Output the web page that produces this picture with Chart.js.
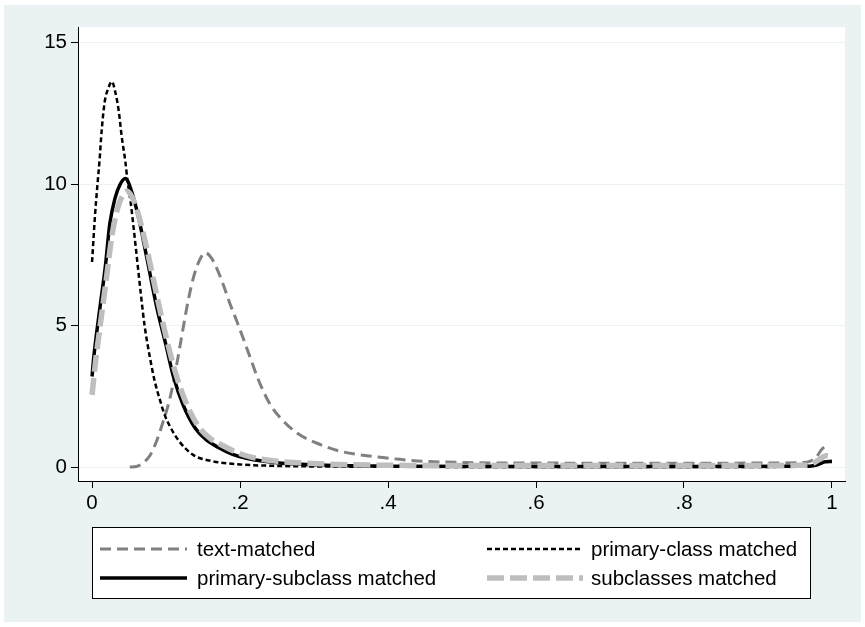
<!DOCTYPE html>
<html>
<head>
<meta charset="utf-8">
<title>Density of similarity scores</title>
<script src="https://cdn.jsdelivr.net/npm/chart.js@4.4.1/dist/chart.umd.min.js"></script>
<style>
    html, body { margin: 0; padding: 0; background: #ffffff; }
    #wrap { width: 865px; height: 627px; }
</style>
</head>
<body>
<div id="wrap"><canvas id="grafico" width="865" height="627"></canvas></div>
<script>
// Eixos
const xTicks = [0, 0.2, 0.4, 0.6, 0.8, 1];
const xTickLabels = ['0', '.2', '.4', '.6', '.8', '1'];
const yTicks = [0, 5, 10, 15];

// Nomes das séries (ordem da legenda)
const seriesNames = ['text-matched', 'primary-class matched', 'primary-subclass matched', 'subclasses matched'];

// Curvas: [x, densidade]
const textMatched = [
    [0.051, 0], [0.060, 0.02], [0.069, 0.15], [0.078, 0.4], [0.087, 0.9], [0.096, 1.6],
    [0.104, 2.3], [0.110, 3.0], [0.117, 4.0], [0.123, 4.9], [0.130, 5.9], [0.137, 6.7],
    [0.145, 7.3], [0.153, 7.58], [0.161, 7.4], [0.169, 7.0], [0.178, 6.4], [0.186, 5.8],
    [0.195, 5.2], [0.205, 4.5], [0.214, 3.85], [0.223, 3.2], [0.232, 2.65], [0.241, 2.2],
    [0.254, 1.75], [0.277, 1.2], [0.304, 0.84], [0.335, 0.56], [0.380, 0.37], [0.416, 0.27],
    [0.450, 0.2], [0.500, 0.16], [0.550, 0.14], [0.600, 0.14], [0.700, 0.13], [0.800, 0.13],
    [0.900, 0.14], [0.960, 0.16], [0.970, 0.2], [0.979, 0.36], [0.986, 0.62], [0.994, 0.8]
];
const primaryClass = [
    [0.000, 7.25], [0.004, 8.9], [0.007, 9.9], [0.010, 10.8], [0.013, 11.9], [0.017, 12.9],
    [0.022, 13.4], [0.027, 13.63], [0.031, 13.3], [0.036, 12.6], [0.040, 11.7], [0.045, 10.8],
    [0.048, 10.1], [0.052, 9.4], [0.056, 8.5], [0.061, 7.3], [0.066, 6.1], [0.071, 5.0],
    [0.078, 3.9], [0.085, 3.0], [0.092, 2.35], [0.098, 1.85], [0.105, 1.45], [0.118, 0.9],
    [0.137, 0.42], [0.160, 0.22], [0.200, 0.09], [0.250, 0.04], [0.300, 0.02], [0.400, 0.01],
    [0.600, 0.0], [0.800, 0.0], [0.960, 0.01], [0.975, 0.04], [0.985, 0.12], [0.993, 0.2], [1.000, 0.18]
];
const primarySubclass = [
    [0.000, 3.2], [0.002, 3.8], [0.011, 5.7], [0.018, 7.1], [0.024, 8.6], [0.031, 9.5],
    [0.038, 10.0], [0.045, 10.2], [0.054, 9.7], [0.063, 8.8], [0.074, 7.4], [0.087, 5.7],
    [0.100, 4.3], [0.110, 3.2], [0.123, 2.2], [0.140, 1.35], [0.155, 0.95], [0.170, 0.7],
    [0.190, 0.45], [0.210, 0.3], [0.250, 0.15], [0.300, 0.08], [0.350, 0.04], [0.400, 0.03],
    [0.600, 0.02], [0.800, 0.02], [0.970, 0.03], [0.980, 0.08], [0.990, 0.18], [1.000, 0.2]
];
const subclasses = [
    [0.000, 2.55], [0.005, 3.8], [0.012, 5.2], [0.020, 6.8], [0.027, 8.2], [0.034, 9.1],
    [0.041, 9.6], [0.047, 9.75], [0.055, 9.5], [0.064, 8.8], [0.075, 7.6], [0.088, 6.0],
    [0.101, 4.5], [0.112, 3.4], [0.125, 2.4], [0.142, 1.5], [0.160, 1.0], [0.175, 0.78],
    [0.195, 0.52], [0.215, 0.35], [0.250, 0.2], [0.300, 0.12], [0.350, 0.08], [0.400, 0.06],
    [0.600, 0.05], [0.800, 0.05], [0.960, 0.06], [0.972, 0.1], [0.982, 0.25], [0.992, 0.4], [1.000, 0.38]
];

const FONT = "'Liberation Sans', Arial, Helvetica, sans-serif";
const FONT_SIZE = 20.5;
const BG = '#eaf2f3';

const estilos = [
    { cor: '#808080', largura: 3, traco: [11, 6] },
    { cor: '#000000', largura: 2.5, traco: [5, 3] },
    { cor: '#000000', largura: 3.5, traco: [] },
    { cor: '#bebebe', largura: 5.5, traco: [17, 6] }
];
const curvas = [textMatched, primaryClass, primarySubclass, subclasses];

const datasets = curvas.map((pts, i) => ({
    label: seriesNames[i],
    data: pts.map(p => ({ x: p[0], y: p[1] })),
    borderColor: estilos[i].cor,
    borderWidth: estilos[i].largura,
    borderDash: estilos[i].traco,
    pointRadius: 0,
    fill: false,
    cubicInterpolationMode: 'monotone',
    order: 4 - i
}));

// Fundo estilo Stata (região do gráfico azulada, área do plot branca)
const fundoPlugin = {
    id: 'fundo',
    beforeDraw(chart) {
        const { ctx, chartArea } = chart;
        ctx.save();
        ctx.fillStyle = '#ffffff';
        ctx.fillRect(0, 0, chart.width, chart.height);
        ctx.fillStyle = BG;
        ctx.fillRect(4, 5, chart.width - 8, chart.height - 10);
        ctx.fillStyle = '#ffffff';
        ctx.fillRect(chartArea.left, chartArea.top, chartArea.right - chartArea.left, chartArea.bottom - chartArea.top);
        ctx.restore();
    }
};

// Legenda em caixa 2x2
const legendaPlugin = {
    id: 'legendaCaixa',
    afterDraw(chart) {
        const { ctx } = chart;
        const box = { x: 92.5, y: 527.5, w: 718, h: 71 };
        ctx.save();
        ctx.fillStyle = '#ffffff';
        ctx.fillRect(box.x, box.y, box.w, box.h);
        ctx.strokeStyle = '#000000';
        ctx.lineWidth = 1;
        ctx.setLineDash([]);
        ctx.strokeRect(box.x, box.y, box.w, box.h);

        const linhas = [549, 578];
        const colunas = [{ x0: 100, x1: 187, tx: 197 }, { x0: 487, x1: 583, tx: 591 }];
        chart.data.datasets.forEach((ds, i) => {
            const col = colunas[i % 2];
            const y = linhas[Math.floor(i / 2)];
            ctx.beginPath();
            ctx.strokeStyle = ds.borderColor;
            ctx.lineWidth = ds.borderWidth;
            ctx.setLineDash(ds.borderDash);
            ctx.moveTo(col.x0, y);
            ctx.lineTo(col.x1, y);
            ctx.stroke();
            ctx.setLineDash([]);
            ctx.fillStyle = '#000000';
            ctx.font = FONT_SIZE + 'px ' + FONT;
            ctx.textBaseline = 'middle';
            ctx.fillText(ds.label, col.tx, y + 1);
        });
        ctx.restore();
    }
};

new Chart(document.getElementById('grafico'), {
    type: 'line',
    data: { datasets },
    plugins: [fundoPlugin, legendaPlugin],
    options: {
        responsive: false,
        animation: false,
        layout: { padding: { left: 0, top: 27, right: 20, bottom: 100 } },
        plugins: {
            legend: { display: false },
            tooltip: { enabled: false }
        },
        scales: {
            x: {
                type: 'linear',
                min: -0.019,
                max: 1.0176,
                afterBuildTicks: (scale) => { scale.ticks = xTicks.map(v => ({ value: v })); },
                afterFit: (scale) => { scale.height = 46; },
                ticks: {
                    color: '#000000',
                    font: { family: FONT, size: FONT_SIZE },
                    padding: 3,
                    maxRotation: 0,
                    autoSkip: false,
                    callback: (value, index) => xTickLabels[index]
                },
                grid: { drawOnChartArea: false, tickLength: 7, tickColor: '#000000', tickWidth: 1 },
                border: { color: '#000000', width: 1 }
            },
            y: {
                min: -0.495,
                max: 15.56,
                afterBuildTicks: (scale) => { scale.ticks = yTicks.map(v => ({ value: v })); },
                afterFit: (scale) => { scale.width = 78; },
                ticks: {
                    color: '#000000',
                    font: { family: FONT, size: FONT_SIZE },
                    padding: 4,
                    autoSkip: false,
                    callback: (value) => String(value)
                },
                grid: { color: BG, lineWidth: 1, tickLength: 7, tickColor: '#000000', tickWidth: 1 },
                border: { color: '#000000', width: 1 }
            }
        }
    }
});
</script>
</body>
</html>
